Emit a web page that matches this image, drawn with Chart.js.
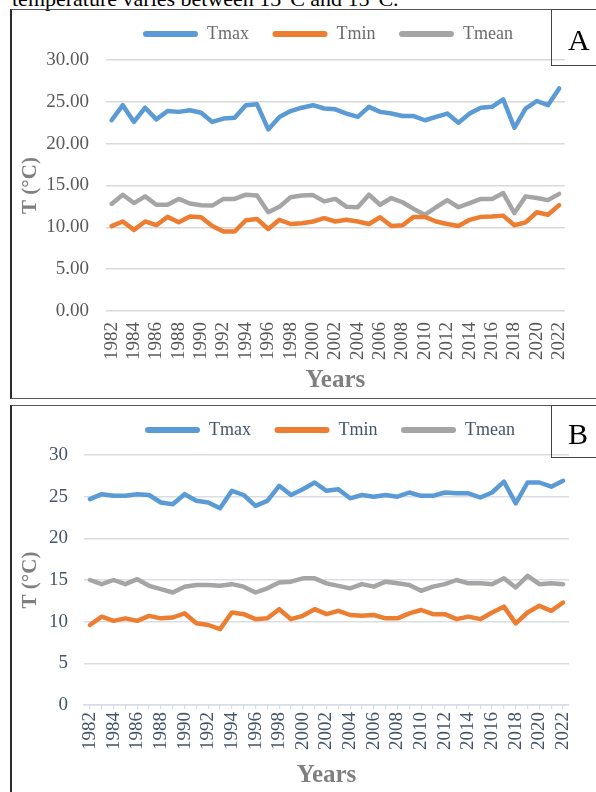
<!DOCTYPE html>
<html>
<head>
<meta charset="utf-8">
<script src="https://cdn.jsdelivr.net/npm/chart.js@4.4.1/dist/chart.umd.min.js"></script>
<style>
  body {
    margin: 0;
    width: 596px;
    height: 792px;
    overflow: hidden;
    position: relative;
    background: #fff;
    font-family: 'Liberation Serif', 'Times New Roman', serif;
  }
  .top-text {
    position: absolute;
    left: 12px;
    top: -12px;
    font-size: 22px;
    line-height: 22px;
    white-space: nowrap;
    color: #000;
  }
  .frame {
    position: absolute;
    left: 10px;
    width: 600px;
    box-sizing: border-box;
    border: 1px solid #555;
    border-left: 2px solid #2b2b2b;
  }
  #frameA { top: 9px; height: 390px; }
  #frameB { top: 405px; height: 400px; }
  .tag {
    position: absolute;
    left: 551px;
    width: 60px;
    box-sizing: border-box;
    border: 1px solid #444;
    font-size: 30px;
    padding-left: 16px;
    color: #000;
  }
  #tagA { top: 9px; height: 57px; line-height: 60px; }
  #tagB { top: 405px; height: 53px; line-height: 56px; }
  canvas { position: absolute; left: 13px; }
  #chartA { top: 11px; }
  #chartB { top: 407px; }
</style>
</head>
<body>
<div class="top-text">temperature varies between 13°C and 15°C.</div>
<div class="frame" id="frameA"></div>
<div class="frame" id="frameB"></div>
<canvas id="chartA" width="576" height="386"></canvas>
<canvas id="chartB" width="576" height="385"></canvas>
<div class="tag" id="tagA">A</div>
<div class="tag" id="tagB">B</div>

<script>
const years = [1982, 1983, 1984, 1985, 1986, 1987, 1988, 1989, 1990, 1991,
  1992, 1993, 1994, 1995, 1996, 1997, 1998, 1999, 2000, 2001,
  2002, 2003, 2004, 2005, 2006, 2007, 2008, 2009, 2010, 2011,
  2012, 2013, 2014, 2015, 2016, 2017, 2018, 2019, 2020, 2021, 2022];

const seriesNames = ['Tmax', 'Tmin', 'Tmean'];
const seriesColors = ['#5B9BD5', '#ED7D31', '#A5A5A5'];
const yTicks = [0, 5, 10, 15, 20, 25, 30];

// panel A
const tmaxA = [22.8, 24.6, 22.6, 24.3, 22.9, 23.9, 23.8, 24.0, 23.7, 22.6,
  23.0, 23.1, 24.6, 24.7, 21.7, 23.2, 23.9, 24.3, 24.6, 24.2,
  24.1, 23.6, 23.2, 24.4, 23.8, 23.6, 23.3, 23.3, 22.8, 23.2,
  23.6, 22.5, 23.6, 24.3, 24.4, 25.3, 21.9, 24.2, 25.1, 24.6, 26.6];
const tminA = [10.15, 10.7, 9.7, 10.7, 10.25, 11.25, 10.6, 11.3, 11.2, 10.15,
  9.5, 9.5, 10.85, 11.0, 9.8, 10.9, 10.4, 10.5, 10.7, 11.1,
  10.7, 10.9, 10.7, 10.4, 11.2, 10.15, 10.25, 11.25, 11.25, 10.7,
  10.4, 10.15, 10.9, 11.25, 11.3, 11.4, 10.25, 10.6, 11.8, 11.5, 12.65];
const tmeanA = [12.8, 13.9, 12.9, 13.7, 12.7, 12.7, 13.4, 12.85, 12.65, 12.6,
  13.4, 13.4, 13.9, 13.8, 11.8, 12.45, 13.6, 13.8, 13.85, 13.1,
  13.4, 12.45, 12.4, 13.9, 12.7, 13.5, 13.0, 12.2, 11.5, 12.4,
  13.25, 12.4, 12.9, 13.4, 13.4, 14.1, 11.7, 13.7, 13.5, 13.25, 14.0];

// panel B
const tmaxB = [24.7, 25.3, 25.1, 25.1, 25.3, 25.2, 24.3, 24.1, 25.3, 24.5,
  24.3, 23.6, 25.7, 25.2, 23.9, 24.5, 26.3, 25.2, 25.9, 26.7,
  25.7, 25.9, 24.8, 25.2, 25.0, 25.2, 25.0, 25.5, 25.1, 25.1,
  25.5, 25.4, 25.4, 24.9, 25.5, 26.8, 24.2, 26.7, 26.7, 26.2, 26.9];
const tminB = [9.6, 10.6, 10.1, 10.4, 10.1, 10.7, 10.4, 10.5, 11.0, 9.8,
  9.6, 9.1, 11.1, 10.9, 10.3, 10.4, 11.5, 10.3, 10.7, 11.5,
  10.9, 11.3, 10.8, 10.7, 10.8, 10.4, 10.4, 11.0, 11.4, 10.9,
  10.9, 10.3, 10.6, 10.3, 11.1, 11.8, 9.8, 11.1, 11.9, 11.3, 12.3];
const tmeanB = [15.0, 14.5, 15.0, 14.5, 15.1, 14.3, 13.9, 13.5, 14.2, 14.4,
  14.4, 14.3, 14.5, 14.2, 13.5, 14.0, 14.7, 14.8, 15.2, 15.2,
  14.6, 14.3, 14.0, 14.5, 14.2, 14.8, 14.6, 14.4, 13.7, 14.2,
  14.5, 15.0, 14.6, 14.6, 14.5, 15.2, 14.1, 15.5, 14.5, 14.6, 14.5];

const fontFamily = "'Liberation Serif', 'Times New Roman', serif";

// legend sits a bit off-centre and with a gap under it, like the Excel original
function legendPlacement(gap, shift) {
    return {
        id: 'legendPlacement',
        beforeInit(chart) {
            const originalFit = chart.legend.fit;
            chart.legend.fit = function () {
                originalFit.call(this);
                this.height += gap;
            };
        },
        afterLayout(chart) {
            chart.legend.left += shift;
            chart.legend.right += shift;
        }
    };
}

function desenharPainel(canvasId, series, cfg) {
    const ctx = document.getElementById(canvasId);

    new Chart(ctx, {
        type: 'line',
        data: {
            labels: years,
            datasets: series.map((values, i) => ({
                label: seriesNames[i],
                data: values,
                borderColor: seriesColors[i],
                backgroundColor: seriesColors[i]
            }))
        },
        options: {
            responsive: false,
            animation: false,
            layout: {
                padding: { left: 0, right: cfg.padRight, top: 4, bottom: 0 }
            },
            elements: {
                point: { radius: 0 },
                line: {
                    borderWidth: 4.5,
                    tension: 0,
                    borderCapStyle: 'round',
                    borderJoinStyle: 'round'
                }
            },
            plugins: {
                legend: {
                    position: 'top',
                    labels: {
                        boxWidth: 55,
                        boxHeight: 6,
                        useBorderRadius: true,
                        borderRadius: 3,
                        padding: 10,
                        color: cfg.legendColor,
                        font: { family: fontFamily, size: 18 },
                        generateLabels: function (chart) {
                            const items = Chart.defaults.plugins.legend.labels.generateLabels(chart);
                            items.forEach((item, i) => {
                                item.lineWidth = 0;
                                if (i < items.length - 1) item.text += '   ';
                            });
                            return items;
                        }
                    }
                },
                tooltip: { enabled: false }
            },
            scales: {
                x: {
                    offset: true,
                    border: { display: cfg.xAxisLine, color: cfg.gridColor, width: 1.5 },
                    grid: {
                        display: cfg.xAxisLine,
                        drawOnChartArea: false,
                        tickLength: 4,
                        color: cfg.gridColor,
                        lineWidth: 1.2
                    },
                    ticks: {
                        autoSkip: false,
                        minRotation: 90,
                        maxRotation: 90,
                        padding: cfg.xTickPad,
                        color: cfg.tickColor,
                        font: { family: fontFamily, size: 19 },
                        callback: function (value, index) {
                            return index % 2 === 0 ? this.getLabelForValue(value) : '';
                        }
                    },
                    title: {
                        display: true,
                        text: 'Years',
                        color: '#7F7F7F',
                        font: { family: fontFamily, size: 25, weight: 'bold' },
                        padding: { top: 0, bottom: 1 }
                    },
                    afterFit(scale) { scale.height = cfg.xHeight; }
                },
                y: {
                    min: 0,
                    max: 30,
                    border: { display: false },
                    grid: { color: cfg.gridColor, lineWidth: 1.5, drawTicks: false },
                    afterBuildTicks(scale) {
                        scale.ticks = yTicks.map(v => ({ value: v }));
                    },
                    ticks: {
                        padding: cfg.yTickPad,
                        color: cfg.tickColor,
                        font: { family: fontFamily, size: 19 },
                        callback: v => cfg.decimals ? v.toFixed(2) : String(v)
                    },
                    title: {
                        display: true,
                        text: 'T (°C)',
                        color: '#7F7F7F',
                        font: { family: fontFamily, size: 21, weight: 'bold' },
                        padding: { top: 5, bottom: 0 }
                    },
                    afterFit(scale) { scale.width = cfg.yWidth; }
                }
            }
        },
        plugins: [legendPlacement(cfg.legendGap, cfg.legendShift)]
    });
}

desenharPainel('chartA', [tmaxA, tminA, tmeanA], {
    padRight: 5, yWidth: 93, yTickPad: 17,
    xHeight: 86, xTickPad: 7, xAxisLine: false,
    legendGap: 7, legendShift: 29.5,
    decimals: true, gridColor: '#D9D9D9', tickColor: '#595959', legendColor: '#6b6b6b'
});

desenharPainel('chartB', [tmaxB, tminB, tmeanB], {
    padRight: 11, yWidth: 71, yTickPad: 16,
    xHeight: 87, xTickPad: 3, xAxisLine: true,
    legendGap: 6, legendShift: 34.5,
    decimals: false, gridColor: '#D9DEE5', tickColor: '#44546A', legendColor: '#44546A'
});
</script>
</body>
</html>
